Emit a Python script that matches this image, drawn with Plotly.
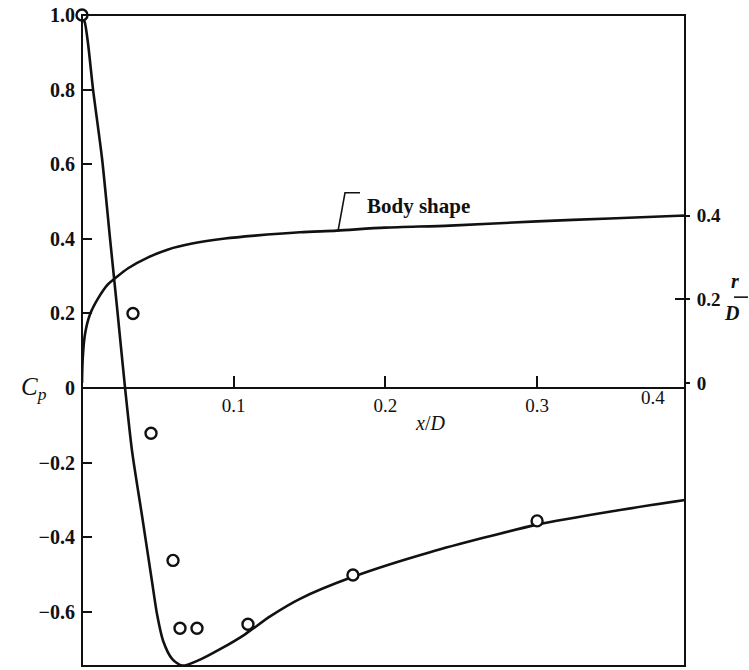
import plotly.graph_objects as go

# Pressure coefficient along the nose: theory curve
cp_curve_x = [0.0, 0.002, 0.004, 0.0073, 0.0132, 0.0185, 0.0231, 0.0284, 0.033, 0.0396,
              0.0462, 0.0495, 0.0535, 0.0594, 0.066, 0.0778, 0.091, 0.1075, 0.124, 0.1437,
              0.1786, 0.2294, 0.300, 0.3527, 0.3975]
cp_curve_y = [1.0, 0.978, 0.923, 0.80, 0.616, 0.40, 0.216, 0.0, -0.169, -0.343,
              -0.52, -0.607, -0.678, -0.726, -0.744, -0.728, -0.700, -0.660, -0.612, -0.565,
              -0.506, -0.440, -0.366, -0.328, -0.300]

# Measured pressure coefficients
cp_meas_x = [0.0, 0.0336, 0.0455, 0.060, 0.0646, 0.0758, 0.1094, 0.1786, 0.300]
cp_meas_y = [1.0, 0.20, -0.121, -0.462, -0.644, -0.644, -0.633, -0.501, -0.356]

# Body contour r/D against x/D
body_x = [0.0, 0.0005, 0.002, 0.0053, 0.0106, 0.0172, 0.0218, 0.0304, 0.0436, 0.0568,
          0.0726, 0.0943, 0.114, 0.1437, 0.168, 0.1997, 0.2426, 0.300, 0.348, 0.3975]
body_r = [0.0, 0.06, 0.117, 0.164, 0.202, 0.236, 0.250, 0.274, 0.300, 0.319,
          0.333, 0.345, 0.352, 0.360, 0.364, 0.371, 0.376, 0.386, 0.393, 0.40]

x_ticks = [0.1, 0.2, 0.3]
cp_ticks = [1.0, 0.8, 0.6, 0.4, 0.2, 0.0, -0.2, -0.4, -0.6]
cp_labels = ["1.0", "0.8", "0.6", "0.4", "0.2", "0", "\u22120.2", "\u22120.4", "\u22120.6"]
rd_ticks = [0.0, 0.2, 0.4]
rd_labels = ["0", "0.2", "0.4"]

X_RANGE = [0, 0.3975]
CP_RANGE = [-0.745, 1.0]
RD_RANGE = [-0.676, 0.879]

FONT = "Liberation Serif"
BLACK = "#111111"

fig = go.Figure()

fig.add_trace(go.Scatter(
    x=body_x, y=body_r, mode="lines", yaxis="y2",
    line=dict(color=BLACK, width=2.6, shape="spline", smoothing=0.8),
    showlegend=False, hoverinfo="skip"))

fig.add_trace(go.Scatter(
    x=cp_curve_x, y=cp_curve_y, mode="lines",
    line=dict(color=BLACK, width=2.6, shape="spline", smoothing=0.7),
    showlegend=False, hoverinfo="skip"))

fig.add_trace(go.Scatter(
    x=cp_meas_x, y=cp_meas_y, mode="markers", cliponaxis=False,
    marker=dict(symbol="circle", size=11, color="white",
                line=dict(color=BLACK, width=2.4)),
    showlegend=False))

# Frame around the plotting area
fig.add_shape(type="rect", xref="paper", yref="paper", x0=0, x1=1, y0=0, y1=1,
              line=dict(color=BLACK, width=2), layer="above")

# Leader from the label to the body contour
fig.add_shape(type="path", xref="paper", yref="paper",
              path="M 0.461 0.727 L 0.4362 0.727 L 0.4245 0.6677",
              line=dict(color=BLACK, width=1.6))

# r/D fraction bar
fig.add_shape(type="line", xref="paper", yref="paper",
              x0=1.0813, x1=1.1045, y0=0.5666, y1=0.5666,
              line=dict(color=BLACK, width=1.6))

cp_zero_frac = (0 - CP_RANGE[0]) / (CP_RANGE[1] - CP_RANGE[0])

fig.update_layout(
    width=749, height=670,
    margin=dict(l=82, r=64, t=13, b=4),
    paper_bgcolor="white", plot_bgcolor="white",
    font=dict(family=FONT, color=BLACK, size=18),
    xaxis=dict(
        range=X_RANGE, anchor="free", position=cp_zero_frac,
        showgrid=False, zeroline=False, showline=True, linecolor=BLACK, linewidth=2,
        tickvals=x_ticks, ticktext=[f"{v:.1f}" for v in x_ticks],
        ticks="inside", ticklen=11, tickwidth=1.6, tickcolor=BLACK,
        ticklabelstandoff=0, tickfont=dict(family=FONT, size=19)),
    yaxis=dict(
        range=CP_RANGE, showgrid=False, zeroline=False, showline=False,
        tickvals=cp_ticks, ticktext=cp_labels,
        ticks="inside", ticklen=10, tickwidth=1.6, tickcolor=BLACK,
        ticklabelstandoff=6,
        tickfont=dict(family=FONT, size=20, weight="bold")),
    yaxis2=dict(
        range=RD_RANGE, overlaying="y", side="right", anchor="x",
        showgrid=False, zeroline=False, showline=False,
        tickvals=rd_ticks, ticktext=rd_labels,
        ticks="outside", ticklen=4, tickwidth=1.6, tickcolor=BLACK,
        ticklabelstandoff=3,
        tickfont=dict(family=FONT, size=19, weight="bold")),
    yaxis3=dict(
        range=RD_RANGE, overlaying="y", side="right", anchor="x",
        showgrid=False, zeroline=False, showline=False,
        tickvals=rd_ticks[1:], showticklabels=False,
        ticks="inside", ticklen=10, tickwidth=1.6, tickcolor=BLACK),
    annotations=[
        dict(text="<i>C<sub>p</sub></i>", xref="paper", yref="paper",
             x=-0.1045, y=cp_zero_frac, showarrow=False,
             font=dict(family=FONT, size=25)),
        dict(text="<i>x</i>/<i>D</i>", xref="paper", yref="paper",
             x=0.577, y=0.3737, showarrow=False,
             font=dict(family=FONT, size=20)),
        dict(text="0.4", xref="paper", yref="paper",
             x=0.970, y=0.412, showarrow=False,
             font=dict(family=FONT, size=19)),
        dict(text="Body shape", xref="paper", yref="paper",
             x=0.469, y=0.7275, xanchor="left", showarrow=False,
             font=dict(family=FONT, size=21, weight="bold")),
        dict(text="<i><b>r</b></i>", xref="paper", yref="paper",
             x=1.093, y=0.591, showarrow=False,
             font=dict(family=FONT, size=20)),
        dict(text="<i><b>D</b></i>", xref="paper", yref="paper",
             x=1.093, y=0.543, showarrow=False,
             font=dict(family=FONT, size=20)),
    ],
)

# Hidden trace so the inside-tick axis is rendered
fig.add_trace(go.Scatter(x=[None], y=[None], yaxis="y3", showlegend=False,
                         hoverinfo="skip"))

fig.write_html("out.html")
